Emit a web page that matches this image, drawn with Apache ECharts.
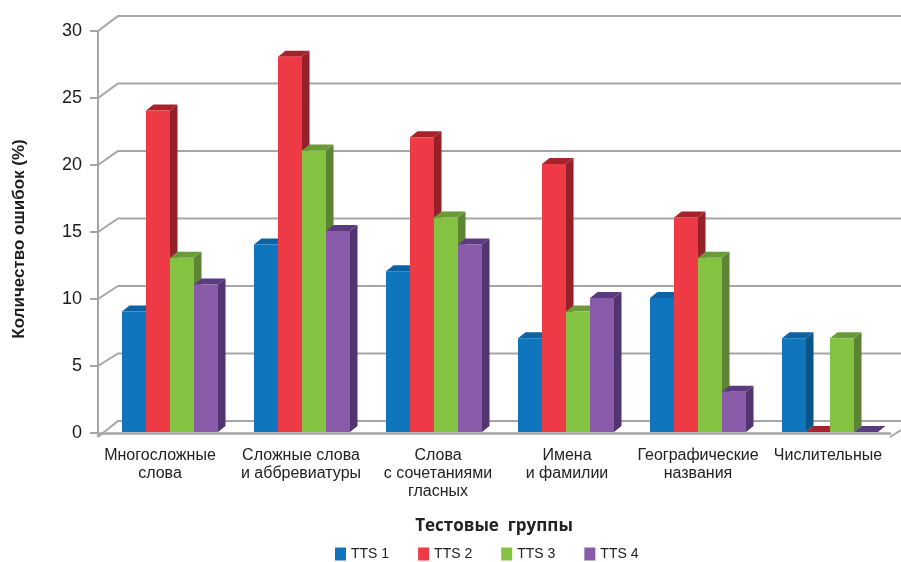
<!DOCTYPE html>
<html>
<head>
<meta charset="utf-8">
<style>html,body{margin:0;padding:0;background:#fff}#chart{width:901px;height:562px}</style>
<script src="https://cdn.jsdelivr.net/npm/echarts@6/dist/echarts.min.js"></script>
</head>
<body>
<div id="chart"></div>
<script>
const categories = ['Многосложные\nслова', 'Сложные слова\nи аббревиатуры', 'Слова\nс сочетаниями\nгласных', 'Имена\nи фамилии', 'Географические\nназвания', 'Числительные'];
const yTicks = [0, 5, 10, 15, 20, 25, 30];
const tts1 = [9, 14, 12, 7, 10, 7];
const tts2 = [24, 28, 22, 20, 16, 0];
const tts3 = [13, 21, 16, 9, 13, 7];
const tts4 = [11, 15, 14, 10, 3, 0];
const seriesNames = ['TTS 1', 'TTS 2', 'TTS 3', 'TTS 4'];
const seriesValues = [tts1, tts2, tts3, tts4];
const frontColors = ['#0f75bd', '#ee3a45', '#84c341', '#8a5ba8'];
const topColors = ['#0c62a3', '#a8222b', '#6b9a38', '#5b3b80'];
const sideColors = ['#0a5588', '#96202a', '#5d8335', '#523470'];

const GRID_COLOR = '#a6a6a6';
const FONT = '"Liberation Sans", Arial, sans-serif';

// Sideways nudge of each category caption, in pixels.
const captionNudge = [-4, 5, 10, 7, 6, 4];

// Back wall and floor: each gridline is a slanted stub plus a long horizontal run.
function renderWall(params, api) {
  const cs = params.coordSys;
  const left = cs.x, right = cs.x + cs.width, bottom = cs.y + cs.height;
  const v = api.value(1);
  const y = api.coord([0, v])[1];
  const backY = cs.y - 15 + (y - cs.y) * 1.0075;
  const lineStyle = { stroke: GRID_COLOR, lineWidth: 2, fill: null };
  const startY = v === 0 ? bottom + 4 : y;
  const children = [{
    type: 'polyline',
    shape: { points: [[left, startY], [left + 20, backY], [901, backY]] },
    style: lineStyle
  }];
  if (v === 0) {
    children.push({
      type: 'line',
      shape: { x1: left, y1: y, x2: left, y2: bottom + 4 },
      style: { stroke: GRID_COLOR, lineWidth: 2 }
    });
    children.push({
      type: 'line',
      shape: { x1: right, y1: bottom + 4, x2: 901, y2: bottom - 3 },
      style: { stroke: GRID_COLOR, lineWidth: 2 }
    });
  }
  return { type: 'group', children };
}

// Extruded column: front face, then its top and right faces.
function barRenderer(seriesIndex) {
  return function (params, api) {
    const center = api.coord([api.value(0), 0])[0];
    const y0 = api.coord([0, 0])[1] - 1;
    const y1 = api.coord([0, api.value(1)])[1] - 1;
    const band = api.size([1, 0])[0];
    const w = band * 2 / 11;
    const x0 = center - band * 7 / 22 + seriesIndex * w;
    const dx = 7.5, dy = 6;
    return {
      type: 'group',
      children: [
        { type: 'polygon', shape: { points: [[x0 + w, y0], [x0 + w + dx, y0 - dy], [x0 + w + dx, y1 - dy], [x0 + w, y1]] }, style: { fill: sideColors[seriesIndex] } },
        { type: 'polygon', shape: { points: [[x0, y1], [x0 + dx, y1 - dy], [x0 + w + dx, y1 - dy], [x0 + w, y1]] }, style: { fill: topColors[seriesIndex] } },
        { type: 'rect', shape: { x: x0, y: y1, width: w, height: y0 - y1 }, style: { fill: frontColors[seriesIndex] } }
      ]
    };
  };
}

const barSeries = seriesNames.map((name, s) => ({
  name,
  type: 'custom',
  clip: false,
  z: 3,
  itemStyle: { color: frontColors[s] },
  encode: { x: 0, y: 1 },
  data: seriesValues[s].map((v, i) => [i, v]),
  renderItem: barRenderer(s)
}));

const chart = echarts.init(document.getElementById('chart'), null, { renderer: 'canvas' });
chart.setOption({
  animation: false,
  backgroundColor: '#ffffff',
  grid: { left: 98, right: 11, top: 31, bottom: 129, containLabel: false },
  xAxis: {
    type: 'category',
    data: categories.map((value, i) => ({
      value,
      textStyle: {
        padding: captionNudge[i] > 0 ? [0, 0, 0, captionNudge[i] * 2] : [0, -captionNudge[i] * 2, 0, 0]
      }
    })),
    offset: 4,
    axisLine: { lineStyle: { color: GRID_COLOR, width: 2.5 } },
    axisTick: { length: 3, lineStyle: { color: '#8c8c8c', width: 1.5 } },
    axisLabel: { color: '#222', fontFamily: FONT, fontSize: 16, lineHeight: 18, margin: 10, interval: 0 },
    name: 'Тестовые  группы',
    nameLocation: 'middle',
    nameGap: 81,
    nameTextStyle: { color: '#222', fontFamily: '"Open Sans", sans-serif', fontWeight: 'bold', fontSize: 17 }
  },
  yAxis: {
    type: 'value',
    min: 0,
    max: 30,
    interval: 5,
    splitLine: { show: false },
    axisLine: { show: true, lineStyle: { color: GRID_COLOR, width: 2 } },
    axisTick: { show: true, length: 8, lineStyle: { color: GRID_COLOR, width: 2 } },
    axisLabel: { color: '#1c1c1c', fontFamily: FONT, fontSize: 18, margin: 16 },
    name: 'Количество ошибок (%)',
    nameLocation: 'middle',
    nameGap: 70,
    nameTextStyle: { color: '#1c1c1c', fontFamily: FONT, fontWeight: 'bold', fontSize: 17, padding: [0, 14, 0, 0] }
  },
  legend: {
    data: seriesNames,
    left: 330,
    top: 542,
    icon: 'rect',
    itemWidth: 11,
    itemHeight: 13,
    itemGap: 29,
    selectedMode: false,
    textStyle: { color: '#222', fontFamily: FONT, fontSize: 14, padding: [0, 0, 0, 0] }
  },
  series: [{
    type: 'custom',
    clip: false,
    z: 1,
    silent: true,
    encode: { x: 0, y: 1 },
    data: yTicks.map(v => [0, v]),
    renderItem: renderWall
  }].concat(barSeries)
});
</script>
</body>
</html>
